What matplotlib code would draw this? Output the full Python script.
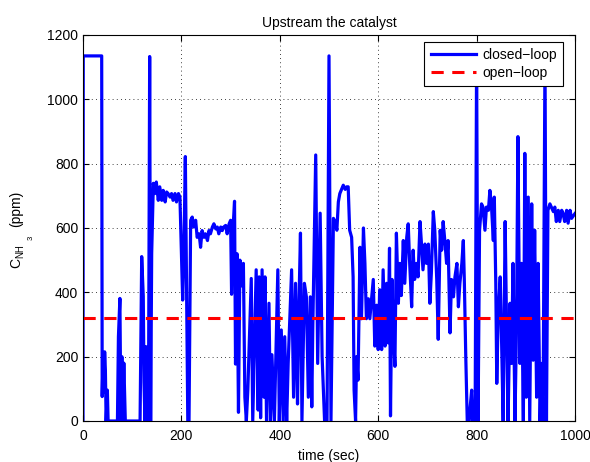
import matplotlib
matplotlib.use('Agg')
import matplotlib.pyplot as plt
import numpy as np

plt.rcParams['font.family'] = ['Liberation Sans', 'DejaVu Sans']

# closed-loop NH3 concentration (time in sec, ppm)
t_closed = [0, 0.5, 38, 39, 41, 42.5, 44, 45.5, 47, 49.5, 51, 70, 72, 75, 77, 79, 80.5, 83, 86,
            116, 119.3, 122.5, 124, 126, 128, 130.5, 133, 135.5, 137.5, 139.6, 143, 146, 149,
            153, 156, 160, 163, 167, 170, 173, 177, 180, 183, 187, 190, 194, 197, 200, 202.6,
            205, 208, 210.5, 213, 215.5, 218.8, 222, 225, 229, 232, 236, 239, 242, 246, 249,
            253, 256, 259, 263, 266, 270, 273, 276, 280, 283, 286, 290, 293, 297, 300, 302,
            305, 308, 310, 313, 316, 319, 322, 326, 329, 332, 335, 342, 345, 352, 356, 358,
            361, 364, 368, 370, 373, 378, 381, 384, 389, 396, 399, 403, 407, 410, 414, 417,
            424, 428, 432, 436, 439, 442, 445, 450, 454, 458, 462, 465, 467, 473, 477, 482,
            486, 491, 496, 500, 504, 509, 512, 516, 519, 522, 529, 533, 536, 539, 542, 546,
            549, 551, 554, 556, 559, 563, 566, 570, 573, 576, 580, 583, 587, 590, 593, 597,
            600, 603, 607, 610, 614, 617, 620, 623, 625, 628, 630, 634, 637, 641, 644, 647,
            651, 654, 658, 661, 664, 668, 671, 674, 678, 681, 685, 688, 691, 695, 698, 702,
            705, 708, 712, 715, 719, 722, 726, 729, 732, 736, 739, 742, 746, 749, 753, 756,
            760, 763, 766, 770, 773, 775, 778, 781, 785, 787, 790, 792, 795, 797, 800, 803,
            806, 810, 813, 817, 820, 824, 827, 830, 834, 836, 839, 841, 844, 848, 851, 854,
            858, 861, 864, 868, 871, 874, 878, 881, 884, 888, 891, 895, 898, 901, 905, 908,
            912, 915, 918, 922, 925, 929, 932, 935, 939, 942, 945, 949, 952, 956, 959, 962,
            966, 969, 973, 976, 979, 983, 986, 990, 993, 1000]
c_closed = [0, 1135, 1135, 76, 211, 90, 215, 158, 0, 96, 0, 0, 262, 381, 0, 200, 0, 180, 0,
            0, 511, 387, 120, 0, 231, 107, 0, 1133, 0, 521, 739, 707, 743,
            686, 728, 686, 717, 681, 712, 707, 696, 707, 686, 707, 681, 707, 696, 520, 376,
            520, 822, 417, 0, 0, 624, 634, 603, 624, 571, 582, 540, 592, 571, 582,
            561, 592, 582, 603, 613, 597, 603, 582, 603, 592, 603, 608, 582, 613, 624, 394,
            600, 683, 177, 520, 27, 500, 420, 490, 74, 0, 96, 443, 0, 470, 34, 448,
            10, 470, 74, 448, 0, 366, 0, 206, 0, 470, 0, 283, 0, 262, 0, 179,
            470, 74, 428, 53, 366, 584, 0, 428, 386, 74, 386, 44, 283, 827, 179, 646,
            200, 0, 0, 1135, 0, 630, 621, 593, 681, 707, 733, 720, 728, 728, 593, 571,
            448, 96, 0, 200, 127, 540, 318, 600, 490, 318, 380, 318, 390, 440, 233, 360,
            222, 408, 222, 470, 233, 428, 243, 537, 16, 440, 307, 170, 584, 366, 490, 390,
            561, 428, 571, 613, 490, 355, 531, 440, 490, 448, 620, 550, 470, 550, 490, 550,
            366, 459, 651, 593, 440, 254, 593, 531, 620, 550, 490, 561, 274, 440, 386, 448,
            490, 355, 428, 490, 561, 440, 200, 0, 0, 44, 96, 0, 34, 0, 1135, 0,
            593, 675, 665, 593, 665, 655, 717, 675, 561, 696, 428, 117, 335, 448, 233, 0,
            620, 283, 0, 366, 179, 490, 0, 283, 884, 179, 490, 0, 832, 74, 696, 0,
            675, 189, 593, 74, 490, 0, 179, 0, 1135, 0, 655, 675, 665, 651, 665, 620,
            655, 620, 655, 644, 620, 655, 615, 655, 630, 645]

# open-loop reference level
t_open = [0, 1000]
c_open = [320, 320]

W, H = 590, 462
fig = plt.figure(figsize=(W / 100, H / 100), dpi=100)
ax = fig.add_axes([83 / W, 41 / H, 492 / W, 386 / H])

ax.plot(t_closed, c_closed, color=(0, 0, 1), lw=2.3, label='closed\u2212loop')
ax.plot(t_open, c_open, color=(1, 0, 0), lw=2.2, linestyle=(0, (4, 2.8)), label='open\u2212loop')

ax.set_xlim(0, 1000)
ax.set_ylim(0, 1200)
ax.set_xticks(np.arange(0, 1001, 200))
ax.set_yticks(np.arange(0, 1201, 200))
ax.tick_params(direction='in', top=True, right=True, labelsize=10, length=4, width=0.8)
ax.tick_params(axis='x', pad=6)
ax.tick_params(axis='y', pad=3.5)
ax.grid(True, linestyle=(0, (1, 4)), color='black', lw=0.6)
for s in ax.spines.values():
    s.set_linewidth(0.8)

ax.set_title('Upstream the catalyst', fontsize=10, pad=6)
ax.set_xlabel('time (sec)', fontsize=10, labelpad=4)

# y label in MATLAB style: C, subscript NH, sub-subscript 3
def ylab(txt, x, y, size):
    fig.text(x / W, (H - y) / H, txt, fontsize=size, rotation=90,
             rotation_mode='anchor', ha='left', va='baseline')

ylab('C', 20.5, 268, 10)
ylab('NH', 23, 258, 7)
ylab('3', 33, 240, 5.5)
ylab('(ppm)', 20.5, 227, 10)

leg = ax.legend(loc='upper right', bbox_to_anchor=((563 - 83) / 492, (421 - 42) / 386),
                fontsize=10, fancybox=False, framealpha=1, edgecolor='black',
                handlelength=3.25, borderpad=0.45, labelspacing=0.25,
                borderaxespad=0, handletextpad=0.45)
leg.get_frame().set_linewidth(0.8)

plt.savefig('out.png', dpi=100)
